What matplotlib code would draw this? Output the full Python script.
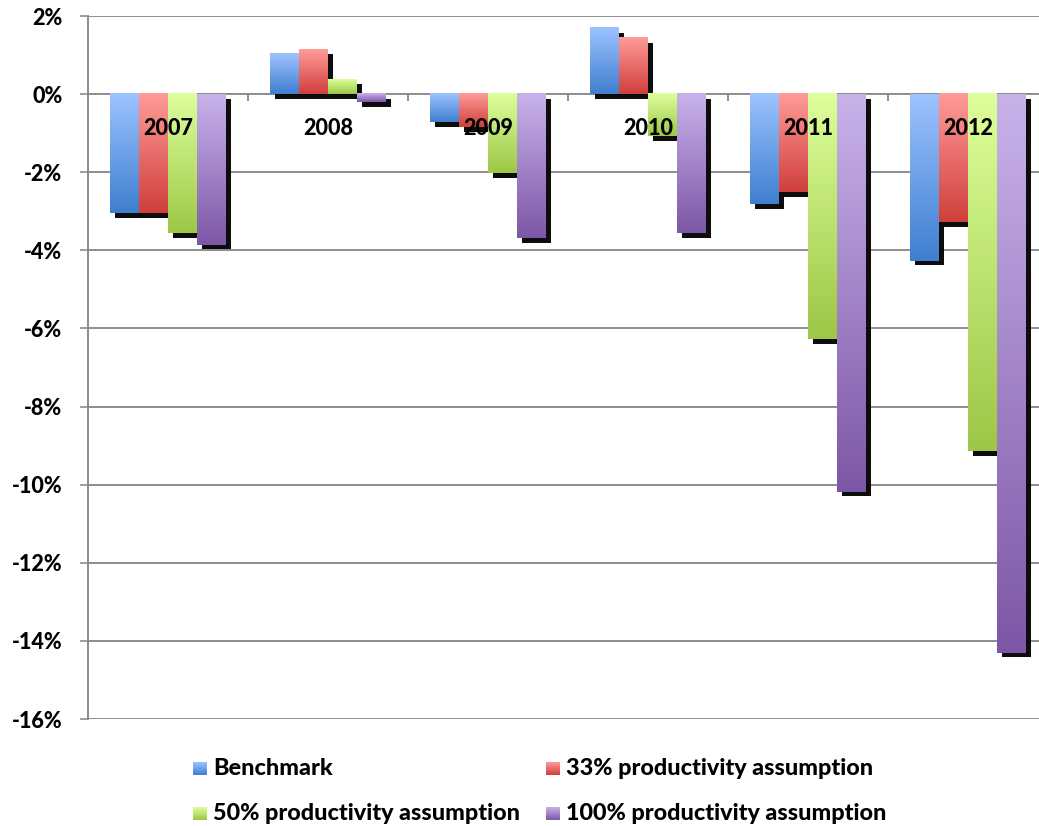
import numpy as np
import matplotlib.pyplot as plt
from matplotlib import patheffects
from matplotlib.colors import LinearSegmentedColormap

# yearly change, %
years = ['2007', '2008', '2009', '2010', '2011', '2012']
benchmark = [-3.05, 1.03, -0.72, 1.69, -2.82, -4.26]
prod_33 = [-3.05, 1.15, -0.85, 1.44, -2.51, -3.28]
prod_50 = [-3.56, 0.38, -2.03, -1.08, -6.28, -9.15]
prod_100 = [-3.85, -0.21, -3.69, -3.56, -10.18, -14.30]

labels = ['Benchmark', '33% productivity assumption',
          '50% productivity assumption', '100% productivity assumption']
# (light top, dark bottom) gradient colours for each series
colours = [('#9dc3ff', '#3f7fd0'),
           ('#ff9b99', '#d03f3b'),
           ('#ddff9c', '#9dc746'),
           ('#c9b2ea', '#7c57a6')]
series = [benchmark, prod_33, prod_50, prod_100]

yticks = list(range(-16, 3, 2))
grid_col = '#8c8c8c'
font = 'Lato'
wt = 900

plt.rcParams['font.family'] = font

fig = plt.figure(figsize=(10.39, 8.26), dpi=100)
ax = fig.add_axes([0.0847, 0.1295, 0.924, 0.8511])

x = np.arange(len(years))
w = 0.181
shadow = [patheffects.SimplePatchShadow(offset=(3.4, -3.4), shadow_rgbFace='black', alpha=0.95),
          patheffects.Normal()]

grad = np.linspace(1, 0, 200).reshape(-1, 1)
for i, (vals, (light, dark)) in enumerate(zip(series, colours)):
    xs = x + (i - 1.5) * w
    bars = ax.bar(xs, vals, w, color=dark, zorder=3, path_effects=shadow)
    cmap = LinearSegmentedColormap.from_list('g%d' % i, [dark, light])
    for b in bars:
        x0, y0 = b.get_x(), b.get_y()
        top = y0 + b.get_height()
        lo, hi = min(y0, top), max(y0, top)
        ax.imshow(grad, cmap=cmap, extent=(x0, x0 + w, lo, hi), origin='upper',
                  aspect='auto', interpolation='bicubic', zorder=3.5, vmin=0, vmax=1)

# year labels sit just under the zero line
for xi, yr in zip(x, years):
    ax.text(xi, -0.87, yr, ha='center', va='center', fontsize=15.5,
            fontweight=wt, zorder=6)

# small category ticks hanging off the zero line
ax.vlines(x[:-1] + 0.5, 0, -0.18, color=grid_col, lw=1.4, zorder=2)

ax.set_xlim(-0.5, 5.5)
ax.set_ylim(-16, 2)
ax.set_xticks([])
ax.set_yticks(yticks)
ax.set_yticklabels(['%d%%' % v for v in yticks], fontsize=15.5, fontweight=wt)
ax.tick_params(axis='y', length=5.5, width=1.2, color=grid_col, pad=13)
ax.grid(axis='y', color=grid_col, lw=1.4)
ax.set_axisbelow(True)
for s in ['top', 'right', 'bottom']:
    ax.spines[s].set_visible(False)
ax.spines['left'].set_color(grid_col)
ax.spines['left'].set_linewidth(1.4)

# legend, two rows by two columns, drawn in pixel space
lax = fig.add_axes([0, 0, 1, 1])
lax.set_xlim(0, 1039)
lax.set_ylim(826, 0)
lax.axis('off')
lax.patch.set_alpha(0)
spots = [(193, 775), (546, 775), (193, 820), (546, 820)]
for (px, py), lab, (light, dark) in zip(spots, labels, colours):
    cmap = LinearSegmentedColormap.from_list('leg', [dark, light])
    lax.imshow(grad, cmap=cmap, extent=(px, px + 14, py, py - 13), origin='upper',
               aspect='auto', interpolation='bicubic', vmin=0, vmax=1)
    lax.text(px + 20, py, lab, ha='left', va='baseline', fontsize=16.8, fontweight=wt)
lax.set_xlim(0, 1039)
lax.set_ylim(826, 0)

fig.savefig('out.png', dpi=100, facecolor='white')
